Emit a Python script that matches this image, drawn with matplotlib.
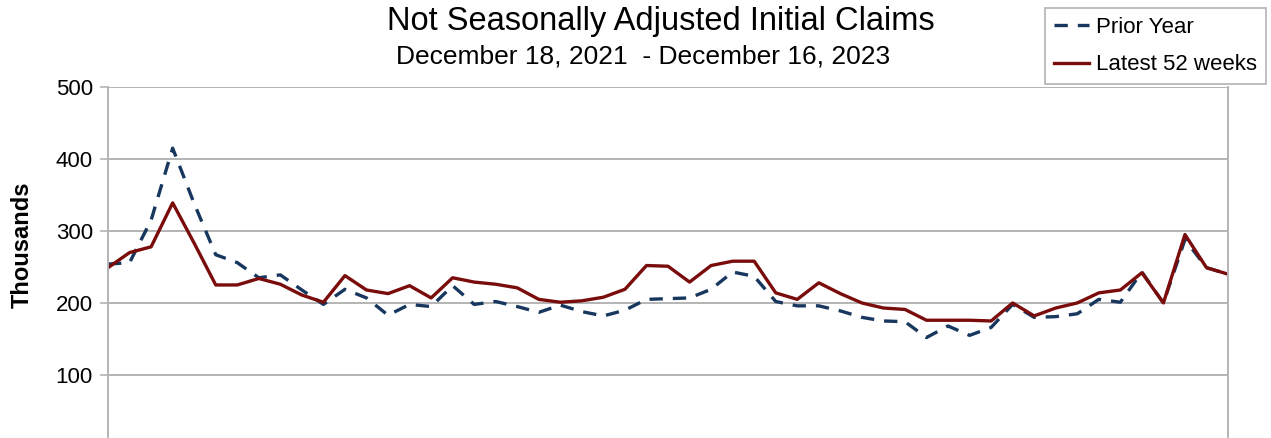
import matplotlib
matplotlib.use("Agg")
import matplotlib.pyplot as plt
import numpy as np

# weekly claims, thousands (53 weeks each)
latest = [249, 270, 278, 339, 283, 225, 225, 234, 226, 211, 201, 238, 218, 213,
          224, 207, 235, 229, 226, 221, 205, 201, 203, 208, 219, 252, 251, 229,
          252, 258, 258, 214, 205, 228, 213, 200, 193, 191, 176, 176, 176, 175,
          200, 182, 193, 200, 214, 218, 242, 200, 295, 249, 240]
prior = [254, 256, 315, 415, 338, 267, 256, 235, 239, 218, 198, 219, 207, 183,
         198, 195, 224, 198, 202, 195, 187, 197, 188, 182, 190, 205, 206, 207,
         219, 243, 237, 202, 196, 196, 189, 180, 175, 174, 152, 168, 155, 166,
         198, 180, 181, 185, 205, 201, 243, 200, 288, 249, 240]
yticks = [100, 200, 300, 400, 500]

plt.rcParams['font.family'] = ['Liberation Sans', 'DejaVu Sans']

fig = plt.figure(figsize=(12.71, 4.38), dpi=100)
ax = fig.add_axes([0.085, -0.0205, 0.8812, 0.822])

weeks = np.arange(len(latest))
grid_c = '#b4b4b4'
ax.plot(weeks, prior, color='#17375e', lw=2.4, ls=(0, (4, 3)), label='Prior Year')
ax.plot(weeks, latest, color='#7a0c0c', lw=2.4, label='Latest 52 weeks')

ax.set_xlim(0, len(latest) - 1)
ax.set_ylim(0, 500)
ax.set_yticks(yticks)
ax.set_yticklabels([str(t) for t in yticks], fontsize=16)
ax.set_xticks([])
ax.yaxis.grid(True, color=grid_c, lw=1.4)
ax.set_axisbelow(True)
ax.tick_params(axis='y', length=6, width=1.2, color=grid_c, pad=5)
for s in ['left', 'right']:
    ax.spines[s].set_color(grid_c)
    ax.spines[s].set_linewidth(1.4)
for s in ['top', 'bottom']:
    ax.spines[s].set_visible(False)

ax.set_ylabel('Thousands', fontsize=17, fontweight='bold')
ax.yaxis.set_label_coords(-0.066, 0.561)

fig.text(0.520, 0.952, 'Not Seasonally Adjusted Initial Claims', ha='center', va='center', fontsize=23.5)
fig.text(0.506, 0.870, 'December 18, 2021  - December 16, 2023', ha='center', va='center', fontsize=19)

leg = fig.legend(loc='upper left', bbox_to_anchor=(0.822, 0.982), fontsize=16,
                 frameon=True, fancybox=False, handlelength=1.6, handletextpad=0.3,
                 labelspacing=0.75, borderpad=0.4, borderaxespad=0)
leg.get_frame().set_edgecolor('#a0a0a0')
leg.get_frame().set_linewidth(1.2)

fig.savefig('out.png', dpi=100)
